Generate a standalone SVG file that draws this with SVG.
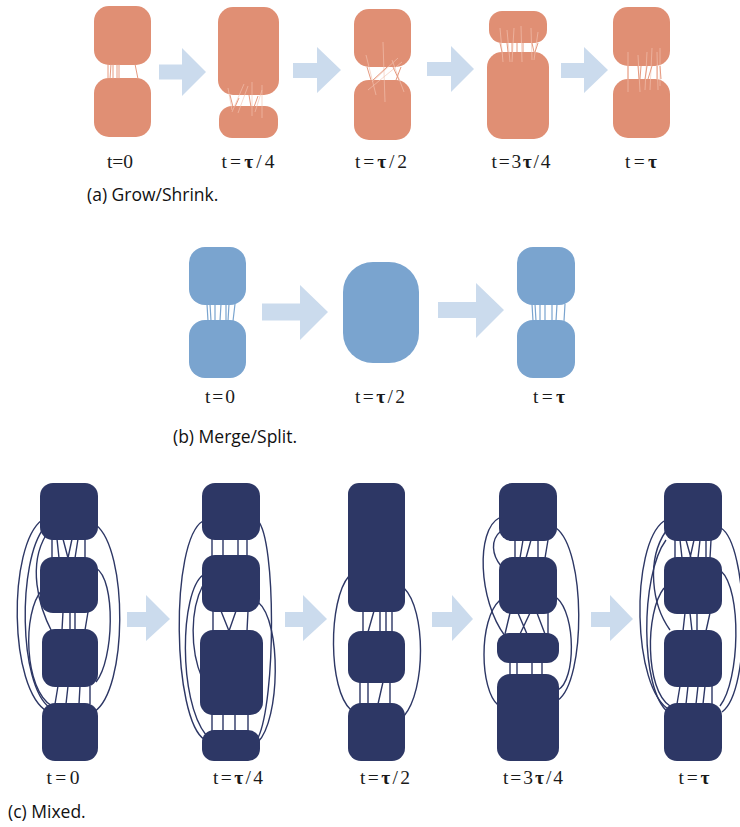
<svg xmlns="http://www.w3.org/2000/svg" width="740" height="827" viewBox="0 0 740 827">
<style>
.o{fill:#e08f74}
.b{fill:#7aa4cf}
.n{fill:#2d3765}
.arr{fill:#cbdbed}
.lo{stroke:#e69a80;stroke-width:1;fill:none}
.lf{stroke:#f2c3b2;stroke-width:0.8;fill:none;opacity:0.8}
.lb{stroke:#7aa4cf;stroke-width:1.2;fill:none}
.ln{stroke:#2d3765;stroke-width:1.4;fill:none}
.lbl{font-family:"Liberation Serif",serif;font-size:19.5px;fill:#1a1a1a;text-anchor:middle}
.tau{font-weight:bold}
.cap{font-family:"Open Sans","Noto Sans",sans-serif;font-size:17.5px;fill:#111}
</style>
<rect width="740" height="827" fill="#fff"/>

<!-- Row (a) -->
<g id="a-arrows">
<polygon class="arr" points="159,64.5 182,64.5 182,48 206,72 182,96 182,79.5 159,79.5"/>
<polygon class="arr" points="293,63 317,63 317,47 341,70 317,93 317,78 293,78"/>
<polygon class="arr" points="427,62 451,62 451,46 474,69 451,92 451,76 427,76"/>
<polygon class="arr" points="561,63 584,63 584,47 608,70 584,93 584,78 561,78"/>
</g>
<g id="a-t0">
<rect class="o" x="94" y="6" width="57" height="59" rx="15"/>
<rect class="o" x="94" y="78" width="57" height="59" rx="15"/>
</g>
<g id="a-t1">
<rect class="o" x="218" y="7" width="61" height="88" rx="15"/>
<rect class="o" x="219" y="106" width="59" height="32" rx="13"/>
</g>
<g id="a-t2">
<rect class="o" x="354" y="9" width="57" height="58" rx="15"/>
<rect class="o" x="354" y="80" width="57" height="60" rx="15"/>
</g>
<g id="a-t3">
<rect class="o" x="489" y="11" width="58" height="32" rx="13"/>
<rect class="o" x="487" y="52" width="62" height="87" rx="15"/>
</g>
<g id="a-t4">
<rect class="o" x="613" y="7" width="57" height="59" rx="15"/>
<rect class="o" x="613" y="79" width="57" height="59" rx="15"/>
</g>
<g id="a-connectors">
<path class="lo" d="M108,64 L108,79 M111,64 L110,79 M113,64 L113,79 M117,64 L117,79 M119,64 L119,79 M135,64 L138,79"/>
<path class="lf" d="M228,88 L232,110 M232,112 L244,84 M238,113 L248,86 M252,82 L252,116 M255,112 L262,90 M262,85 L262,118"/>
<path class="lo" d="M230,95 L233,107 M235,107 L239,98 M249,95 L251,107 M254,107 L258,96"/>
<path class="lf" d="M366,55 L376,95 M383,42 L385,102 M372,82 L398,58 M392,60 L404,92 M368,90 L402,62"/>
<path class="lo" d="M367,67 L371,80 M373,80 L387,67 M393,67 L399,80 M396,80 L401,67"/>
<path class="lf" d="M500,28 L503,62 M507,30 L510,62 M514,28 L512,62 M521,26 L522,62 M531,28 L532,60 M538,32 L534,60"/>
<path class="lo" d="M500,43 L502,52 M507,43 L508,52 M512,43 L512,52 M517,43 L517,52 M523,43 L523,52 M532,43 L534,52 M538,43 L535,52"/>
<path class="lf" d="M628,52 L628,92 M638,55 L640,92 M647,52 L645,90 M652,48 L650,90 M657,52 L658,90 M660,48 L660,86"/>
<path class="lo" d="M628,66 L628,79 M638,66 L639,79 M641,66 L640,79 M647,66 L645,79 M652,66 L648,79 M657,66 L657,79 M660,66 L661,79"/>
</g>
<g id="a-labels">
<text class="lbl" x="120" y="168" textLength="26" lengthAdjust="spacing">t=0</text>
<text class="lbl" x="248" y="168" textLength="53" lengthAdjust="spacing">t=<tspan class="tau">τ</tspan>/4</text>
<text class="lbl" x="381" y="168" textLength="52" lengthAdjust="spacing">t=<tspan class="tau">τ</tspan>/2</text>
<text class="lbl" x="521" y="168" textLength="59" lengthAdjust="spacing">t=3<tspan class="tau">τ</tspan>/4</text>
<text class="lbl" x="641" y="168" textLength="32" lengthAdjust="spacing">t=<tspan class="tau">τ</tspan></text>
<text class="cap" x="87" y="201">(a) Grow/Shrink.</text>
</g>

<!-- Row (b) -->
<g id="b-arrows">
<polygon class="arr" points="262,303.5 300,303.5 300,285 328,312 300,340 300,320.5 262,320.5"/>
<polygon class="arr" points="438,302 476,302 476,283 504,310 476,338 476,318 438,318"/>
</g>
<g id="b-t0">
<rect class="b" x="189" y="247" width="57" height="58" rx="16"/>
<rect class="b" x="189" y="320" width="57" height="58" rx="16"/>
</g>
<g id="b-t1">
<rect class="b" x="343" y="262" width="76" height="101" rx="30"/>
</g>
<g id="b-t2">
<rect class="b" x="517" y="247" width="58" height="58" rx="16"/>
<rect class="b" x="517" y="320" width="58" height="58" rx="16"/>
</g>
<g id="b-connectors">
<path class="lb" d="M207,304 L208,321 M210,304 L211,321 M215,304 L215,321 M221,304 L220,321 M226,304 L226,321 M229,304 L228,321 M235,304 L233,321"/>
<path class="lb" d="M532,304 L533,321 M535,304 L536,321 M540,304 L540,321 M545,304 L545,321 M552,304 L552,321 M557,304 L556,321 M565,304 L564,321"/>
</g>
<g id="b-labels">
<text class="lbl" x="220" y="403" textLength="30" lengthAdjust="spacing">t=0</text>
<text class="lbl" x="380" y="403" textLength="50" lengthAdjust="spacing">t=<tspan class="tau">τ</tspan>/2</text>
<text class="lbl" x="549" y="403" textLength="32" lengthAdjust="spacing">t=<tspan class="tau">τ</tspan></text>
<text class="cap" x="173" y="443">(b) Merge/Split.</text>
</g>

<!-- Row (c) -->
<g id="c-arrows">
<polygon class="arr" points="127,612 146,612 146,595 170,619 146,641 146,627 127,627"/>
<polygon class="arr" points="285,612 303,612 303,595 327,619 303,641 303,627 285,627"/>
<polygon class="arr" points="432,612 452,612 452,595 473,619 452,641 452,627 432,627"/>
<polygon class="arr" points="591,612 610,612 610,595 633,619 610,641 610,627 591,627"/>
</g>
<g id="c-connectors">
<!-- panel 1 -->
<path class="ln" d="M42,520 C8,545 8,690 48,712"/>
<path class="ln" d="M44,528 C18,560 18,685 50,708"/>
<path class="ln" d="M46,535 C28,565 38,605 52,632"/>
<path class="ln" d="M42,590 C22,612 24,690 52,706"/>
<path class="ln" d="M96,525 C128,550 128,690 94,712"/>
<path class="ln" d="M96,568 C116,580 114,660 96,682"/>
<path class="ln" d="M52,539 L52,558 M57,539 L59,558 M63,539 L68,558 M72,539 L68,558 M78,539 L75,558 M85,539 L85,558"/>
<path class="ln" d="M63,612 L62,630 M70,612 L70,630 M75,612 L75,630 M88,612 L85,630"/>
<path class="ln" d="M58,686 L55,704 M68,686 L66,704 M80,686 L79,704 M90,686 L90,704"/>
<!-- panel 2 -->
<path class="ln" d="M203,521 C170,540 172,720 205,740"/>
<path class="ln" d="M203,575 C180,592 178,700 206,735"/>
<path class="ln" d="M203,585 C190,610 190,650 202,678"/>
<path class="ln" d="M258,521 C276,540 276,700 258,738"/>
<path class="ln" d="M258,602 C282,622 280,720 258,742"/>
<path class="ln" d="M212,539 L212,556 M223,539 L223,556 M238,539 L238,556 M247,539 L247,556"/>
<path class="ln" d="M213,611 L213,631 M221,611 L229,631 M236,611 L229,631 M248,611 L247,631"/>
<path class="ln" d="M212,714 L212,731 M223,714 L223,731 M235,714 L235,731 M248,714 L248,731"/>
<!-- panel 3 -->
<path class="ln" d="M349,576 C328,600 328,690 351,710"/>
<path class="ln" d="M404,588 C426,610 426,690 404,716"/>
<path class="ln" d="M363,611 L363,632 M368,632 L374,611 M380,611 L380,632 M386,611 L386,632 M392,611 L392,632"/>
<path class="ln" d="M360,682 L360,704 M368,682 L368,704 M378,704 L383,682 M390,682 L390,704"/>
<!-- panel 4 -->
<path class="ln" d="M499,518 C476,530 478,600 505,636"/>
<path class="ln" d="M501,531 C490,540 492,555 501,566"/>
<path class="ln" d="M500,600 C478,620 480,690 498,705"/>
<path class="ln" d="M556,528 C586,550 586,680 558,700"/>
<path class="ln" d="M557,598 C576,615 576,680 558,690"/>
<path class="ln" d="M515,540 L515,558 M523,540 L520,558 M531,540 L526,558 M538,540 L538,558 M548,540 L545,558"/>
<path class="ln" d="M510,613 L505,634 M518,613 L527,634 M530,613 L520,634 M537,613 L545,634 M548,613 L548,634"/>
<path class="ln" d="M510,662 L510,675 M517,662 L517,675 M532,662 L532,675 M542,662 L542,675"/>
<!-- panel 5 -->
<path class="ln" d="M664,521 C630,545 632,690 670,710"/>
<path class="ln" d="M666,531 C646,560 652,605 670,630"/>
<path class="ln" d="M664,588 C645,612 645,690 670,706"/>
<path class="ln" d="M666,540 C640,575 640,690 668,712"/>
<path class="ln" d="M721,528 C748,545 752,690 722,712"/>
<path class="ln" d="M721,571 C742,590 740,680 720,706"/>
<path class="ln" d="M675,540 L675,558 M680,540 L682,558 M686,540 L691,558 M694,540 L690,558 M700,540 L698,558 M706,540 L706,558 M711,540 L710,558"/>
<path class="ln" d="M685,613 L683,631 M690,613 L692,631 M697,613 L697,631 M710,613 L706,631"/>
<path class="ln" d="M680,686 L677,704 M688,686 L686,704 M698,686 L696,704 M705,686 L703,704 M712,686 L712,704"/>
</g>
<g id="c-t0">
<rect class="n" x="40" y="483" width="58" height="57" rx="13"/>
<rect class="n" x="40" y="557" width="58" height="56" rx="13"/>
<rect class="n" x="42" y="629" width="56" height="58" rx="13"/>
<rect class="n" x="42" y="703" width="56" height="58" rx="13"/>
</g>
<g id="c-t1">
<rect class="n" x="202" y="483" width="58" height="57" rx="13"/>
<rect class="n" x="202" y="555" width="58" height="57" rx="13"/>
<rect class="n" x="200" y="630" width="63" height="85" rx="13"/>
<rect class="n" x="202" y="730" width="58" height="31" rx="12"/>
</g>
<g id="c-t2">
<rect class="n" x="348" y="483" width="57" height="129" rx="11"/>
<rect class="n" x="348" y="631" width="57" height="52" rx="13"/>
<rect class="n" x="348" y="703" width="57" height="58" rx="13"/>
</g>
<g id="c-t3">
<rect class="n" x="499" y="483" width="58" height="58" rx="13"/>
<rect class="n" x="499" y="557" width="58" height="57" rx="13"/>
<rect class="n" x="497" y="633" width="62" height="30" rx="12"/>
<rect class="n" x="497" y="674" width="62" height="87" rx="13"/>
</g>
<g id="c-t4">
<rect class="n" x="664" y="483" width="58" height="58" rx="13"/>
<rect class="n" x="664" y="557" width="58" height="57" rx="13"/>
<rect class="n" x="664" y="630" width="58" height="57" rx="13"/>
<rect class="n" x="664" y="703" width="58" height="58" rx="13"/>
</g>
<g id="c-labels">
<text class="lbl" x="63" y="784" textLength="33" lengthAdjust="spacing">t=0</text>
<text class="lbl" x="238" y="784" textLength="50" lengthAdjust="spacing">t=<tspan class="tau">τ</tspan>/4</text>
<text class="lbl" x="385" y="784" textLength="50" lengthAdjust="spacing">t=<tspan class="tau">τ</tspan>/2</text>
<text class="lbl" x="533" y="784" textLength="60" lengthAdjust="spacing">t=3<tspan class="tau">τ</tspan>/4</text>
<text class="lbl" x="694" y="784" textLength="31" lengthAdjust="spacing">t=<tspan class="tau">τ</tspan></text>
<text class="cap" x="8" y="818">(c) Mixed.</text>
</g>
</svg>
